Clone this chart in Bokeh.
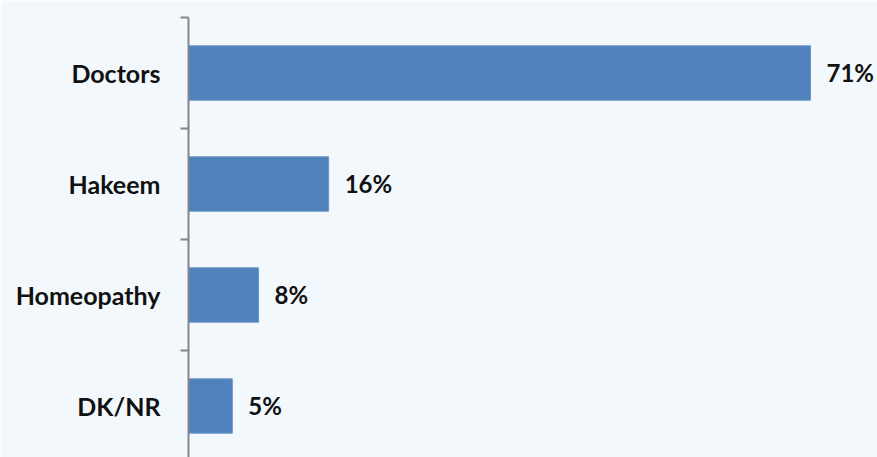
from bokeh.plotting import figure
from bokeh.models import ColumnDataSource, Range1d, FixedTicker
from bokeh.core.properties import value
from bokeh.embed import file_html
from bokeh.resources import INLINE

categories = ["Doctors", "Hakeem", "Homeopathy", "DK/NR"]
values = [71, 16, 8, 5]
value_labels = ["71%", "16%", "8%", "5%"]

pos = list(range(len(categories)))
src = ColumnDataSource(dict(y=pos, v=values, lab=value_labels, cat=categories))

p = figure(width=877, height=457, output_backend="svg", toolbar_location=None,
           x_axis_location=None, x_range=Range1d(0, 78.65),
           y_range=Range1d(len(categories) - 0.536, -0.5),
           min_border_left=188, min_border_top=17, min_border_bottom=0, min_border_right=0)
p.background_fill_color = "#f2f8fc"
p.border_fill_color = "#f2f8fc"
p.outline_line_color = None
p.grid.visible = False

p.hbar(y="y", right="v", left=0, height=0.49, source=src,
       fill_color="#4f81bd", line_color="#6b95c8", line_width=1)

p.text(x="v", y="y", text="lab", source=src, x_offset=16,
       text_baseline="middle", text_align="left",
       text_font=value("Lato"), text_font_style="bold", text_font_size="24px",
       text_color="#111111")

ax = p.yaxis[0]
ax.ticker = FixedTicker(ticks=pos, minor_ticks=[i - 0.5 for i in range(len(categories) + 1)])
ax.major_label_overrides = {i: c for i, c in enumerate(categories)}
ax.major_tick_out = 0
ax.major_tick_in = 0
ax.minor_tick_out = 8
ax.minor_tick_in = 0
ax.minor_tick_line_color = "#868686"
ax.minor_tick_line_width = 2
ax.axis_line_color = "#868686"
ax.axis_line_width = 2
ax.major_label_standoff = 20
ax.major_label_text_font = "Lato"
ax.major_label_text_font_style = "bold"
ax.major_label_text_font_size = "25px"
ax.major_label_text_color = "#111111"

open("out.html", "w").write(file_html(p, INLINE))
